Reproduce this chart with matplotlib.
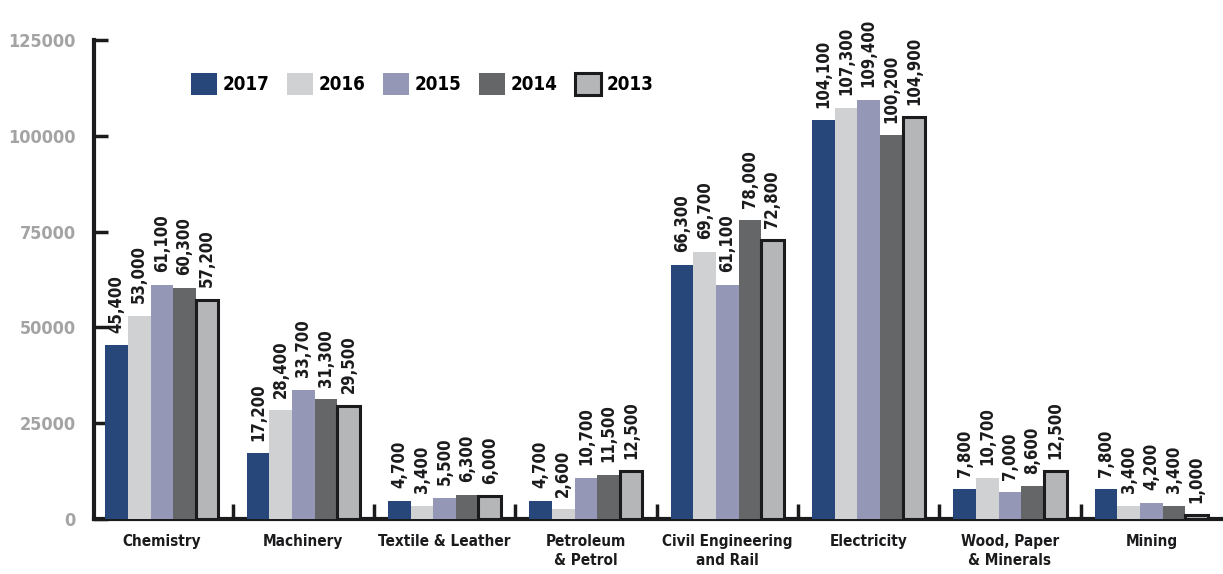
import matplotlib
matplotlib.use('Agg')
import matplotlib.pyplot as plt
import numpy as np

plt.rcParams['font.family'] = ['DejaVu Sans']
plt.rcParams['font.stretch'] = 'condensed'

categories = ['Chemistry', 'Machinery', 'Textile & Leather', 'Petroleum\n& Petrol',
              'Civil Engineering\nand Rail', 'Electricity', 'Wood, Paper\n& Minerals', 'Mining']
years = ['2017', '2016', '2015', '2014', '2013']

v2017 = [45400, 17200, 4700, 4700, 66300, 104100, 7800, 7800]
v2016 = [53000, 28400, 3400, 2600, 69700, 107300, 10700, 3400]
v2015 = [61100, 33700, 5500, 10700, 61100, 109400, 7000, 4200]
v2014 = [60300, 31300, 6300, 11500, 78000, 100200, 8600, 3400]
v2013 = [57200, 29500, 6000, 12500, 72800, 104900, 12500, 1000]

yticks = [0, 25000, 50000, 75000, 100000, 125000]

series = [v2017, v2016, v2015, v2014, v2013]
colors = ['#27477a', '#d0d1d3', '#9498b6', '#656668', '#b5b6b8']

fig = plt.figure(figsize=(12.23, 5.74), dpi=100)
ax = fig.add_axes([94 / 1223, 55 / 574, 1128 / 1223, 479 / 574])

x = np.arange(len(categories))
w = 0.16
for i, (vals, col) in enumerate(zip(series, colors)):
    pos = x + (i - 2) * w
    if i == 4:
        ax.bar(pos, vals, w, color=col, edgecolor='#1b1a1c', linewidth=2.2,
               label=years[i], zorder=3)
    else:
        ax.bar(pos, vals, w, color=col, label=years[i], zorder=3)
    for p, v in zip(pos, vals):
        ax.annotate(f'{v:,}', (p, v), xytext=(0, 9), textcoords='offset points',
                    rotation=90, ha='center', va='bottom', fontsize=12,
                    fontweight='bold', color='#1b1a1c')

ax.set_xlim(-0.48, 7.5)
ax.set_ylim(0, 125000)
ax.set_yticks(yticks)
ax.set_yticklabels([str(t) for t in yticks])
ax.tick_params(axis='y', direction='in', length=10, width=2.5, pad=13,
               labelsize=13, labelcolor='#a3a3a3', color='#1b1a1c')
for lab in ax.get_yticklabels():
    lab.set_fontweight('bold')

ax.set_xticks(x[:-1] + 0.5)
ax.set_xticklabels([])
ax.tick_params(axis='x', which='major', direction='in', length=11, width=2.5,
               color='#1b1a1c')
ax.set_xticks(x, minor=True)
ax.set_xticklabels(categories, minor=True, fontsize=11, fontweight='bold',
                   color='#1b1a1c', linespacing=1.3)
ax.tick_params(axis='x', which='minor', length=0, pad=11)

for s in ['top', 'right']:
    ax.spines[s].set_visible(False)
for s in ['left', 'bottom']:
    ax.spines[s].set_linewidth(3)
    ax.spines[s].set_color('#1b1a1c')

leg = ax.legend(loc='upper left', bbox_to_anchor=(0.086, 0.932), ncol=5, frameon=False,
                fontsize=13.5, handlelength=1.4, handleheight=1.5, columnspacing=0.95,
                handletextpad=0.27, borderpad=0, borderaxespad=0)
for t in leg.get_texts():
    t.set_fontweight('bold')

fig.savefig('out.png', dpi=100)
